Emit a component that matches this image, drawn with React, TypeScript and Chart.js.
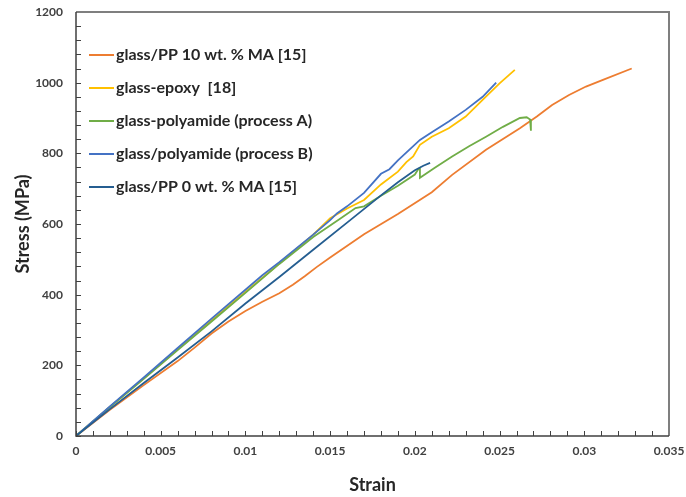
import React, { useEffect, useRef } from 'react';
import { Chart, registerables } from 'chart.js';

Chart.register(...registerables);

const seriesLabels = [
  'glass/PP 10 wt. % MA [15]',
  'glass-epoxy  [18]',
  'glass-polyamide (process A)',
  'glass/polyamide (process B)',
  'glass/PP 0 wt. % MA [15]',
];
const seriesColors = ['#ED7D31', '#FFC000', '#70AD47', '#4472C4', '#255E91'];

const orangeStrain = [0, 0.002, 0.004, 0.006, 0.007, 0.008, 0.009, 0.010, 0.011, 0.012, 0.0128, 0.0135, 0.0142, 0.015, 0.017, 0.019, 0.021, 0.0222, 0.0242, 0.0262, 0.0272, 0.0281, 0.0291, 0.0301, 0.0311, 0.0328];
const orangeStress = [0, 74, 144, 212, 250, 290, 324, 354, 380, 404, 428, 452, 478, 505, 571, 628, 690, 739, 810, 871, 904, 937, 965, 989, 1008, 1040];

const yellowStrain = [0, 0.002, 0.004, 0.006, 0.008, 0.010, 0.012, 0.014, 0.015, 0.016, 0.017, 0.018, 0.019, 0.0195, 0.0199, 0.0203, 0.021, 0.022, 0.023, 0.024, 0.025, 0.0259];
const yellowStress = [0, 82, 163, 245, 327, 408, 488, 570, 616, 644, 668, 712, 748, 775, 791, 824, 847, 871, 904, 951, 998, 1036];

const greenStrain = [0, 0.002, 0.004, 0.006, 0.008, 0.010, 0.012, 0.014, 0.0155, 0.0165, 0.017, 0.018, 0.019, 0.020, 0.0202, 0.0203, 0.0203, 0.0212, 0.0222, 0.0232, 0.0242, 0.0252, 0.0262, 0.0266, 0.0268, 0.02685];
const greenStress = [0, 82, 162, 243, 324, 405, 487, 563, 612, 645, 650, 680, 708, 740, 755, 758, 731, 760, 791, 820, 847, 875, 900, 902, 896, 864];

const blueStrain = [0, 0.002, 0.004, 0.006, 0.008, 0.010, 0.011, 0.012, 0.013, 0.014, 0.015, 0.0154, 0.016, 0.017, 0.018, 0.0185, 0.019, 0.0203, 0.021, 0.022, 0.023, 0.024, 0.0248];
const blueStress = [0, 84, 166, 249, 332, 414, 455, 492, 531, 570, 611, 630, 650, 688, 742, 755, 780, 838, 860, 890, 923, 960, 1000];

const navyStrain = [0, 0.002, 0.004, 0.006, 0.008, 0.010, 0.012, 0.014, 0.016, 0.018, 0.019, 0.020, 0.0205, 0.0209];
const navyStress = [0, 76, 150, 222, 296, 375, 450, 527, 604, 681, 718, 752, 765, 773];

const strainSeries = [orangeStrain, yellowStrain, greenStrain, blueStrain, navyStrain];
const stressSeries = [orangeStress, yellowStress, greenStress, blueStress, navyStress];

const xTicks = [0, 0.005, 0.01, 0.015, 0.02, 0.025, 0.03, 0.035];
const yTicks = [0, 200, 400, 600, 800, 1000, 1200];

const FONT = 'Lato, "Open Sans", sans-serif';

const framePlugin = {
  id: 'frameAndMinorTicks',
  afterDraw(chart: any) {
    const { ctx, chartArea: a, scales } = chart;
    const xs = scales.x;
    const ys = scales.y;
    ctx.save();
    ctx.strokeStyle = '#404040';
    ctx.lineWidth = 1;
    for (let i = 0; i <= 35; i++) {
      const px = Math.round(xs.getPixelForValue(i * 0.001)) + 0.5;
      ctx.beginPath();
      ctx.moveTo(px, a.bottom);
      ctx.lineTo(px, a.bottom - 5);
      ctx.stroke();
    }
    for (let i = 0; i <= 30; i++) {
      const py = Math.round(ys.getPixelForValue(i * 40)) + 0.5;
      ctx.beginPath();
      ctx.moveTo(a.left, py);
      ctx.lineTo(a.left + 5, py);
      ctx.stroke();
    }
    ctx.strokeStyle = '#7f7f7f';
    ctx.lineWidth = 2;
    ctx.beginPath();
    ctx.moveTo(a.left, a.top);
    ctx.lineTo(a.right, a.top);
    ctx.lineTo(a.right, a.bottom);
    ctx.stroke();
    ctx.strokeStyle = '#404040';
    ctx.lineWidth = 1.5;
    ctx.beginPath();
    ctx.moveTo(a.left, a.top);
    ctx.lineTo(a.left, a.bottom);
    ctx.lineTo(a.right, a.bottom);
    ctx.stroke();

    // legend inside plot
    ctx.font = `bold 16px ${FONT}`;
    ctx.textBaseline = 'middle';
    ctx.textAlign = 'left';
    chart.data.datasets.forEach((ds: any, i: number) => {
      const y = a.top + 43 + i * 33;
      ctx.strokeStyle = ds.borderColor;
      ctx.lineWidth = 2;
      ctx.beginPath();
      ctx.moveTo(a.left + 13, y);
      ctx.lineTo(a.left + 38, y);
      ctx.stroke();
      ctx.fillStyle = '#262626';
      ctx.fillText(ds.label, a.left + 40, y);
    });
    ctx.restore();
  },
};

export default function App() {
  const ref = useRef<HTMLCanvasElement | null>(null);
  useEffect(() => {
    document.body.style.margin = '0';
    const canvas = ref.current;
    if (!canvas) return;
    const datasets = seriesLabels.map((label, i) => ({
      label,
      data: strainSeries[i].map((x, j) => ({ x, y: stressSeries[i][j] })),
      borderColor: seriesColors[i],
      backgroundColor: seriesColors[i],
      borderWidth: 1.8,
      pointRadius: 0,
      tension: 0,
      fill: false,
      order: seriesLabels.length - i,
    }));
    const chart = new Chart(canvas, {
      type: 'line',
      data: { datasets },
      options: {
        animation: false,
        responsive: false,
        maintainAspectRatio: false,
        layout: { padding: { top: 12, right: 17, left: 0, bottom: 0 } },
        plugins: { legend: { display: false }, tooltip: { enabled: false } },
        scales: {
          x: {
            type: 'linear',
            min: 0,
            max: 0.035,
            afterBuildTicks: (s: any) => { s.ticks = xTicks.map((v) => ({ value: v })); },
            afterFit: (s: any) => { s.height = 61; s.paddingLeft = 0; s.paddingRight = 0; },
            grid: { display: false, drawTicks: false },
            border: { display: false },
            ticks: {
              padding: 8,
              color: '#404040',
              font: { family: FONT, size: 12, weight: 'bold' },
              maxRotation: 0,
              callback: (v: any) => String(+Number(v).toFixed(3)),
            },
            title: {
              display: true,
              text: 'Strain',
              color: '#262626',
              font: { family: FONT, size: 18, weight: 'bold' },
              padding: { top: 0, bottom: 1 },
            },
          },
          y: {
            type: 'linear',
            min: 0,
            max: 1200,
            afterBuildTicks: (s: any) => { s.ticks = yTicks.map((v) => ({ value: v })); },
            afterFit: (s: any) => { s.width = 76; s.paddingTop = 0; s.paddingBottom = 0; },
            grid: { display: false, drawTicks: false },
            border: { display: false },
            ticks: {
              padding: 13,
              color: '#404040',
              font: { family: FONT, size: 12, weight: 'bold' },
              callback: (v: any) => String(v),
            },
            title: {
              display: true,
              text: 'Stress (MPa)',
              color: '#262626',
              font: { family: FONT, size: 18, weight: 'bold' },
              padding: { top: 12, bottom: 0 },
            },
          },
        },
      },
      plugins: [framePlugin],
    } as any);
    return () => chart.destroy();
  }, []);
  return (
    <div style={{ position: 'relative', width: 686, height: 497 }}>
      <canvas ref={ref} width={686} height={497} style={{ display: 'block', width: 686, height: 497 }} />
    </div>
  );
}
